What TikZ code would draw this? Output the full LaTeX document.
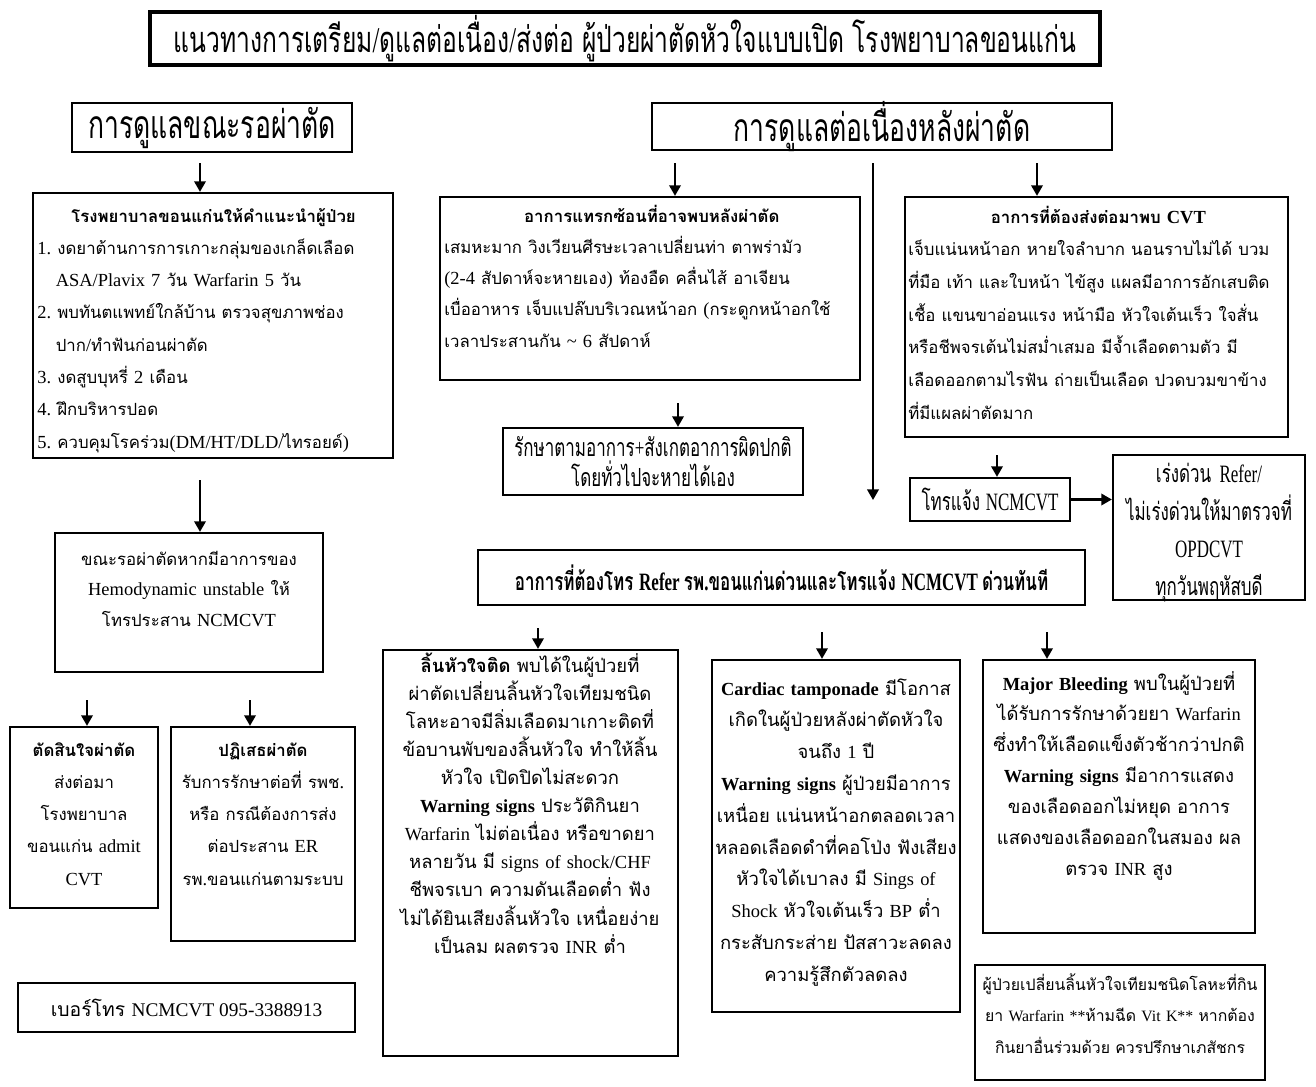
\documentclass[tikz,border=0pt]{standalone}
\usepackage{fontspec}
\setmainfont{Liberation Serif}
\newfontfamily\thaifont[Script=Thai,Scale=0.91]{Loma}
\newfontfamily\thaibig[Script=Thai]{Loma}
\newfontfamily\condthai[Script=Thai,FakeStretch=0.68]{Loma}
\newfontfamily\condlatin[FakeStretch=0.68]{Liberation Serif}
\usetikzlibrary{arrows.meta,fit}
\frenchspacing

\XeTeXinterchartokenstate=1
\newXeTeXintercharclass\thaiclass
\newcount\thcode
\thcode="0E00
\loop
	\XeTeXcharclass\thcode=\thaiclass
	\ifnum\thcode<"0E7F \advance\thcode by 1
\repeat
\def\thaisel{\thaifont}
\def\latinsel{\rmfamily}
\XeTeXinterchartoks 0 \thaiclass = {\thaisel}
\XeTeXinterchartoks 4095 \thaiclass = {\thaisel}
\XeTeXinterchartoks \thaiclass 0 = {\latinsel}
\XeTeXinterchartoks 4095 0 = {\latinsel}

\newcommand\setfs[2]{\fontsize{#1}{#2}\selectfont}
\newcommand\condset{\def\thaisel{\condthai}\def\latinsel{\condlatin}\condthai}
\newcommand\bigset{\def\thaisel{\thaibig}}

\begin{document}
\begin{tikzpicture}[x=0.02cm, y=-0.02cm,
		box/.style={draw, line width=1.3pt, inner sep=0pt},
		txt/.style={inner sep=0pt, font=\setfs{10.5}{18}},
		cond/.style={inner sep=0pt, align=center, font={\condset\setfs{14.2}{17}}},
		arr/.style={line width=1.2pt, -{Triangle[length=6pt, width=6.5pt]}}]
	\useasboundingbox (0,0) rectangle (1316,1086);

	\node [box, line width=2pt, fit={(150,12) (1100,65)}] (ttl) {};
	\node at (ttl) [cond, font={\condset\setfs{20.6}{24}}] (ttltxt) {แนวทางการเตรียม/ดูแลต่อเนื่อง/ส่งต่อ ผู้ป่วยผ่าตัดหัวใจแบบเปิด โรงพยาบาลขอนแก่น};

	\node [box, fit={(72,103) (352,152)}] (hdl) {};
	\node at (hdl) [cond, font={\condset\setfs{22.2}{24}}] (hdltxt) {การดูแลขณะรอผ่าตัด};
	\node [box, fit={(652,103) (1112,150)}] (hdr) {};
	\node at (hdr) [cond, font={\condset\setfs{22.2}{24}}] (hdrtxt) {การดูแลต่อเนื่องหลังผ่าตัด};

	\node [box, fit={(33,193) (393,458)}] (adv) {};
	\node at (37,222) [txt, anchor=base west, text width=7.05cm, align=left, font=\setfs{10.5}{18.4}] (advtxt) {\makebox[\linewidth]{\textbf{โรงพยาบาลขอนแก่นให้คำแนะนำผู้ป่วย}}\\
		1. งดยาต้านการการเกาะกลุ่มของเกล็ดเลือด\\
		\hspace*{1.1em}ASA/Plavix 7 วัน Warfarin 5 วัน\\
		2. พบทันตแพทย์ใกล้บ้าน ตรวจสุขภาพช่อง\\
		\hspace*{1.1em}ปาก/ทำฟันก่อนผ่าตัด\\
		3. งดสูบบุหรี่ 2 เดือน\\
		4. ฝึกบริหารปอด\\
		5. ควบคุมโรคร่วม(DM/HT/DLD/ไทรอยด์)};

	\node [box, fit={(55,533) (323,672)}] (wait) {};
	\node at (189,565) [txt, anchor=base, text width=5.2cm, align=center, font=\setfs{10.5}{17.6}] (waittxt) {ขณะรอผ่าตัดหากมีอาการของ\\ Hemodynamic unstable ให้\\ โทรประสาน NCMCVT};

	\node [box, fit={(10,727) (158,908)}] (dec) {};
	\node at (84,756) [txt, anchor=base, text width=2.9cm, align=center, font=\setfs{10.5}{18.4}] (dectxt) {\textbf{ตัดสินใจผ่าตัด}\\ ส่งต่อมา\\ โรงพยาบาล\\ ขอนแก่น admit\\ CVT};
	\node [box, fit={(171,727) (355,941)}] (refu) {};
	\node at (263,756) [txt, anchor=base, text width=3.6cm, align=center, font=\setfs{10.5}{18.4}] (refutxt) {\textbf{ปฏิเสธผ่าตัด}\\ รับการรักษาต่อที่ รพช.\\ หรือ กรณีต้องการส่ง\\ ต่อประสาน ER\\ รพ.ขอนแก่นตามระบบ};

	\node [box, fit={(18,983) (355,1032)}] (phone) {};
	\node at (phone) [txt, font={\bigset\setfs{11}{18}}] (phonetxt) {เบอร์โทร NCMCVT 095-3388913};

	\node [box, fit={(440,197) (860,380)}] (comp) {};
	\node at (444,222) [txt, anchor=base west, text width=8.3cm, align=left, font=\setfs{10.5}{17.8}] (comptxt) {\makebox[\linewidth]{\textbf{อาการแทรกซ้อนที่อาจพบหลังผ่าตัด}}\\
		เสมหะมาก วิงเวียนศีรษะเวลาเปลี่ยนท่า ตาพร่ามัว\\
		(2-4 สัปดาห์จะหายเอง) ท้องอืด คลื่นไส้ อาเจียน\\
		เบื่ออาหาร เจ็บแปล๊บบริเวณหน้าอก (กระดูกหน้าอกใช้\\
		เวลาประสานกัน \textasciitilde{} 6 สัปดาห์};

	\node [box, fit={(503,428) (803,495)}] (treat) {};
	\node at (treat) [cond, text width=5.8cm] (treattxt) {รักษาตามอาการ+สังเกตอาการผิดปกติ\\ โดยทั่วไปจะหายได้เอง};

	\node [box, fit={(905,197) (1288,437)}] (send) {};
	\node at (908,223) [txt, anchor=base west, text width=7.6cm, align=left, font=\setfs{10.5}{18.6}] (sendtxt) {\makebox[\linewidth]{\textbf{อาการที่ต้องส่งต่อมาพบ CVT}}\\
		เจ็บแน่นหน้าอก หายใจลำบาก นอนราบไม่ได้ บวม\\
		ที่มือ เท้า และใบหน้า ไข้สูง แผลมีอาการอักเสบติด\\
		เชื้อ แขนขาอ่อนแรง หน้ามือ หัวใจเต้นเร็ว ใจสั่น\\
		หรือชีพจรเต้นไม่สม่ำเสมอ มีจ้ำเลือดตามตัว มี\\
		เลือดออกตามไรฟัน ถ่ายเป็นเลือด ปวดบวมขาข้าง\\
		ที่มีแผลผ่าตัดมาก};

	\node [box, fit={(910,478) (1070,521)}] (call) {};
	\node at (call) [cond] (calltxt) {โทรแจ้ง NCMCVT};
	\node [box, fit={(1113,455) (1305,600)}] (urg) {};
	\node at ([yshift=-3pt]urg.center) [cond, text width=3.7cm, font={\condset\setfs{14.2}{21.4}}] (urgtxt) {เร่งด่วน Refer/\\ ไม่เร่งด่วนให้มาตรวจที่\\ OPDCVT\\ ทุกวันพฤหัสบดี};

	\node [box, fit={(478,550) (1085,605)}] (refer) {};
	\node at (refer) [cond, font={\condset\bfseries\setfs{14.2}{17}}] (refertxt) {อาการที่ต้องโทร Refer รพ.ขอนแก่นด่วนและโทรแจ้ง NCMCVT ด่วนทันที};

	\node [box, fit={(383,650) (678,1056)}] (valve) {};
	\node at (530,672) [txt, anchor=base, text width=5.8cm, align=center, font={\bigset\setfs{10.5}{16}}] (valvetxt) {\textbf{ลิ้นหัวใจติด} พบได้ในผู้ป่วยที่\\ ผ่าตัดเปลี่ยนลิ้นหัวใจเทียมชนิด\\ โลหะอาจมีลิ่มเลือดมาเกาะติดที่\\ ข้อบานพับของลิ้นหัวใจ ทำให้ลิ้น\\ หัวใจ เปิดปิดไม่สะดวก\\ \textbf{Warning signs} ประวัติกินยา\\ Warfarin ไม่ต่อเนื่อง หรือขาดยา\\ หลายวัน มี signs of shock/CHF\\ ชีพจรเบา ความดันเลือดต่ำ ฟัง\\ ไม่ได้ยินเสียงลิ้นหัวใจ เหนื่อยง่าย\\ เป็นลม ผลตรวจ INR ต่ำ};

	\node [box, fit={(712,660) (960,1012)}] (tamp) {};
	\node at (836,695) [txt, anchor=base, text width=4.9cm, align=center, font={\bigset\setfs{10.5}{18.1}}] (tamptxt) {\textbf{Cardiac tamponade} มีโอกาส\\ เกิดในผู้ป่วยหลังผ่าตัดหัวใจ\\ จนถึง 1 ปี\\ \textbf{Warning signs} ผู้ป่วยมีอาการ\\ เหนื่อย แน่นหน้าอกตลอดเวลา\\ หลอดเลือดดำที่คอโป่ง ฟังเสียง\\ หัวใจได้เบาลง มี Sings of\\ Shock หัวใจเต้นเร็ว BP ต่ำ\\ กระสับกระส่าย ปัสสาวะลดลง\\ ความรู้สึกตัวลดลง};

	\node [box, fit={(983,660) (1255,933)}] (bleed) {};
	\node at (1119,690) [txt, anchor=base, text width=5.4cm, align=center, font={\bigset\setfs{10.5}{17.6}}] (bleedtxt) {\textbf{Major Bleeding} พบในผู้ป่วยที่\\ ได้รับการรักษาด้วยยา Warfarin\\ ซึ่งทำให้เลือดแข็งตัวช้ากว่าปกติ\\ \textbf{Warning signs} มีอาการแสดง\\ ของเลือดออกไม่หยุด อาการ\\ แสดงของเลือดออกในสมอง ผล\\ ตรวจ INR สูง};

	\node [box, fit={(975,965) (1265,1080)}] (note) {};
	\node at (1120,990) [txt, anchor=base, text width=5.75cm, align=center, font={\bigset\setfs{9}{18.1}}] (notetxt) {ผู้ป่วยเปลี่ยนลิ้นหัวใจเทียมชนิดโลหะที่กิน\\ ยา Warfarin **ห้ามฉีด Vit K** หากต้อง\\ กินยาอื่นร่วมด้วย ควรปรึกษาเภสัชกร};

	\coordinate (a1) at (200,163);
	\coordinate (a2) at (200,480);
	\coordinate (a3) at (87,700);
	\coordinate (a4) at (250,700);
	\coordinate (a5) at (675,163);
	\coordinate (a6) at (873,163);
	\coordinate (a6end) at (873,500);
	\coordinate (a7) at (1037,163);
	\coordinate (a8) at (678,403);
	\coordinate (a9) at (997,455);
	\coordinate (a11) at (538,628);
	\coordinate (a12) at (822,632);
	\coordinate (a13) at (1047,632);

	\draw [arr] (a1) -- (a1 |- adv.north);
	\draw [arr] (a2) -- (a2 |- wait.north);
	\draw [arr] (a3) -- (a3 |- dec.north);
	\draw [arr] (a4) -- (a4 |- refu.north);
	\draw [arr] (a5) -- (a5 |- comp.north);
	\draw [arr] (a6) -- (a6end);
	\draw [arr] (a7) -- (a7 |- send.north);
	\draw [arr] (a8) -- (a8 |- treat.north);
	\draw [arr] (a9) -- (a9 |- call.north);
	\draw [arr] (call.east) -- (call.east -| urg.west);
	\draw [arr] (a11) -- (a11 |- valve.north);
	\draw [arr] (a12) -- (a12 |- tamp.north);
	\draw [arr] (a13) -- (a13 |- bleed.north);
\end{tikzpicture}
\end{document}
